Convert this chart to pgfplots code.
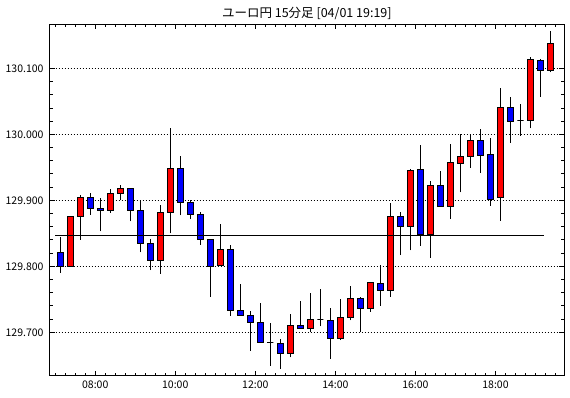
\documentclass[border=0pt]{standalone}
\usepackage{fontspec}
\setmainfont{Noto Sans CJK JP}
\usepackage{pgfplots}
\usepackage{pgfplotstable}
\pgfplotsset{compat=1.18}
\definecolor{upc}{RGB}{255,0,0}
\definecolor{dnc}{RGB}{0,0,255}

\pgfplotstableread{
i o h l c
0 129.821 129.844 129.790 129.800
1 129.800 129.876 129.800 129.876
2 129.876 129.908 129.840 129.905
3 129.905 129.911 129.878 129.888
4 129.888 129.903 129.853 129.885
5 129.885 129.917 129.881 129.911
6 129.911 129.923 129.900 129.918
7 129.918 129.918 129.868 129.885
8 129.885 129.900 129.821 129.835
9 129.835 129.841 129.794 129.809
10 129.809 129.893 129.789 129.882
11 129.882 130.010 129.850 129.949
12 129.949 129.967 129.877 129.897
13 129.897 129.901 129.871 129.879
14 129.879 129.882 129.833 129.841
15 129.841 129.841 129.754 129.800
16 129.802 129.864 129.802 129.826
17 129.826 129.832 129.725 129.733
18 129.733 129.773 129.725 129.725
19 129.726 129.732 129.672 129.715
20 129.715 129.744 129.685 129.685
21 129.684 129.714 129.649 129.684
22 129.683 129.690 129.645 129.668
23 129.668 129.728 129.662 129.711
24 129.711 129.748 129.706 129.706
25 129.706 129.760 129.700 129.720
26 129.719 129.766 129.709 129.719
27 129.718 129.737 129.660 129.691
28 129.691 129.751 129.688 129.723
29 129.723 129.770 129.718 129.751
30 129.751 129.754 129.700 129.736
31 129.736 129.776 129.731 129.776
32 129.774 129.802 129.740 129.764
33 129.764 129.896 129.754 129.876
34 129.876 129.882 129.817 129.861
35 129.861 129.948 129.824 129.945
36 129.947 129.984 129.831 129.848
37 129.848 129.929 129.813 129.923
38 129.923 129.944 129.891 129.891
39 129.891 129.985 129.872 129.958
40 129.956 130.000 129.912 129.967
41 129.967 130.000 129.949 129.991
42 129.991 130.008 129.942 129.968
43 129.970 129.994 129.892 129.902
44 129.904 130.070 129.869 130.041
45 130.041 130.057 129.987 130.020
46 130.021 130.046 129.998 130.021
47 130.021 130.117 130.009 130.114
48 130.112 130.114 130.057 130.097
49 130.097 130.156 130.094 130.138
}\ohlc

\begin{document}
\begin{tikzpicture}
\useasboundingbox (-49.7bp,-22.5bp) rectangle (520.3bp,375.5bp);
\begin{axis}[
  at={(0,0)}, anchor=south west,
  scale only axis, width=514.3bp, height=351bp,
  xmin=-1.05, xmax=50.35, ymin=129.6345, ymax=130.1664,
  xtick={3.5,11.5,19.5,27.5,35.5,43.5},
  xticklabels={08:00,10:00,12:00,14:00,16:00,18:00},
  minor xtick={-0.5,0.5,...,49.5},
  ytick={129.7,129.8,129.9,130.0,130.1},
  minor y tick num=4,
  scaled y ticks=false,
  /pgf/number format/fixed,
  /pgf/number format/fixed zerofill,
  /pgf/number format/precision=3,
  /pgf/number format/1000 sep={},
  /pgf/number format/assume math mode=true,
  tick label style={font=\fontsize{10.5bp}{12bp}\selectfont, inner sep=0pt},
  yticklabel style={xshift=-6bp},
  xticklabel style={yshift=-5bp},
  ymajorgrids,
  major grid style={black, line width=0.8bp, dash pattern=on 1bp off 2bp},
  title={ユーロ円 15分足 [04/01 19:19]},
  title style={font=\fontsize{12.5bp}{14bp}\selectfont, inner sep=0pt, yshift=-1bp},
  axis line style={line width=0.9bp},
  tick style={black, line width=0.8bp},
  major tick length=5bp, minor tick length=3bp,
]
\pgfplotsinvokeforeach{0,...,49}{
  \pgfplotstablegetelem{#1}{o}\of\ohlc \let\vO\pgfplotsretval
  \pgfplotstablegetelem{#1}{h}\of\ohlc \let\vH\pgfplotsretval
  \pgfplotstablegetelem{#1}{l}\of\ohlc \let\vL\pgfplotsretval
  \pgfplotstablegetelem{#1}{c}\of\ohlc \let\vC\pgfplotsretval
  \pgfmathsetmacro\xa{#1-0.31}
  \pgfmathsetmacro\xb{#1+0.31}
  \pgfmathparse{\vC>=\vO ? 1 : 0}
  \ifdim\pgfmathresult pt>0.5pt \def\vcol{upc}\else\def\vcol{dnc}\fi
  \edef\doplot{\noexpand\addplot[black, line width=0.9bp] coordinates {(#1,\vL) (#1,\vH)};
    \noexpand\addplot[draw=black, fill=\vcol, line width=0.9bp] coordinates {(\xa,\vO) (\xb,\vO) (\xb,\vC) (\xa,\vC)} -- cycle;}
  \doplot
}
% reference line at 129.847
\addplot[black, line width=0.9bp] coordinates {(-0.5,129.847) (48.4,129.847)};
\end{axis}
\end{tikzpicture}
\end{document}
